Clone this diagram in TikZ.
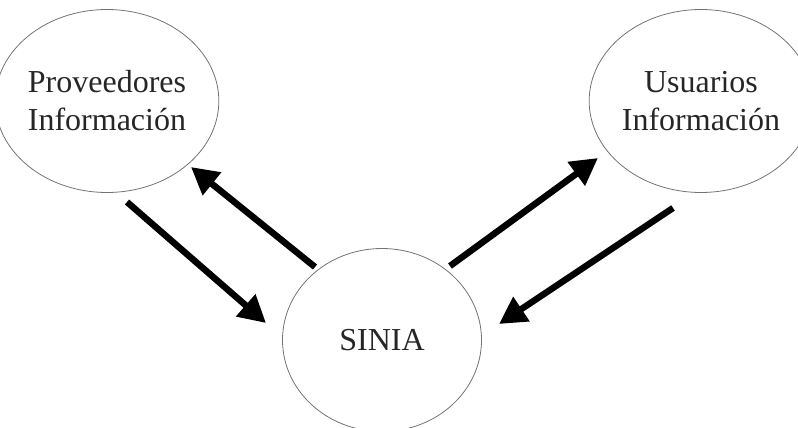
\documentclass[tikz,border=0pt]{standalone}
\usepackage{fontspec}
\setmainfont{Liberation Serif}
\usetikzlibrary{shapes.geometric,arrows.meta}
\begin{document}
\begin{tikzpicture}[x=1pt,y=-1pt,
  bubble/.style={ellipse, draw=black!55, line width=0.8pt, inner sep=0pt, align=center,
    font=\fontsize{32}{38}\selectfont, text=black!85},
  flow/.style={line width=6.5pt, -{Triangle[length=27pt,width=28pt]}}]
\useasboundingbox (0,0) rectangle (798,428);
\node[bubble, minimum width=201pt, minimum height=183pt] (prov) at (107,101) {Proveedores\\Información};
\node[bubble, minimum width=191pt, minimum height=183pt] (usu) at (701,101) {Usuarios\\Información};
\node[bubble, minimum width=199pt, minimum height=183pt] (sinia) at (382,340) {SINIA};
\coordinate (a1s) at (127,202);
\coordinate (a1e) at (266,323);
\coordinate (a2s) at (315,267);
\coordinate (a2e) at (191,167);
\coordinate (a3s) at (450,266);
\coordinate (a3e) at (598,158);
\coordinate (a4s) at (673,208);
\coordinate (a4e) at (499,324);
\draw[flow] (a1s) -- (a1e);
\draw[flow] (a2s) -- (a2e);
\draw[flow] (a3s) -- (a3e);
\draw[flow] (a4s) -- (a4e);
\end{tikzpicture}
\end{document}
